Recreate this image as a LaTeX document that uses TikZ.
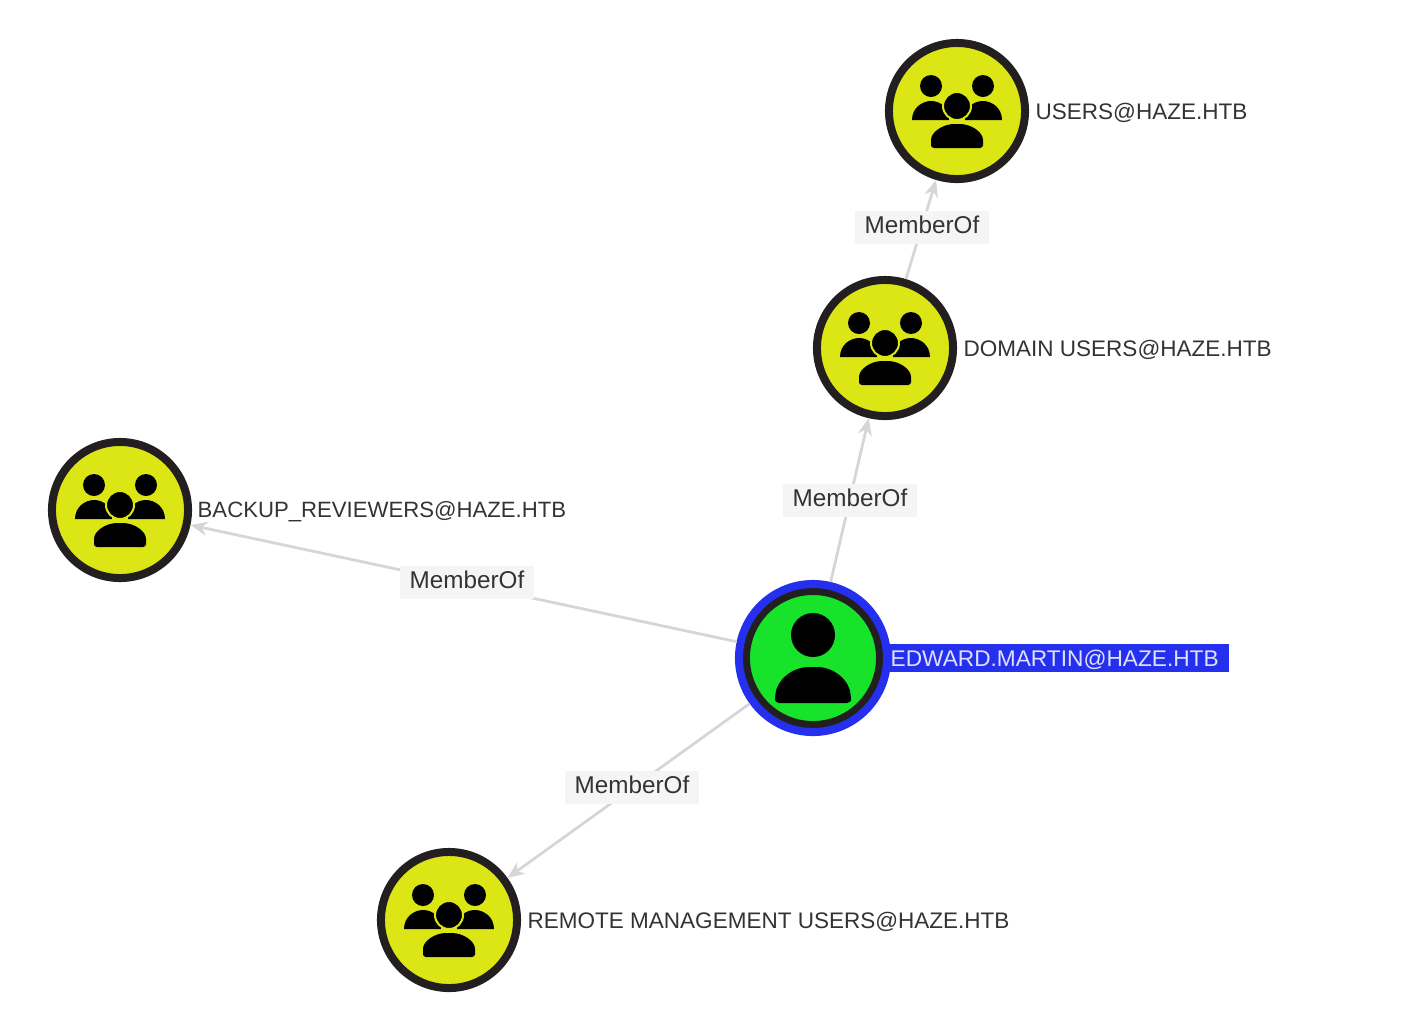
\documentclass[tikz,border=0pt]{standalone}
\usepackage{fontspec}
\setmainfont{Liberation Sans}
\usetikzlibrary{arrows.meta}
\definecolor{groupyellow}{HTML}{DCE614}
\definecolor{usergreen}{HTML}{17E32A}
\definecolor{ringdark}{HTML}{231F20}
\definecolor{selectblue}{HTML}{2430EE}
\definecolor{edgegray}{HTML}{D6D6D6}
\definecolor{textgray}{HTML}{333333}
\tikzset{
  groupnode/.style = {circle, draw = ringdark, fill = groupyellow, line width = .08cm, minimum size = 1.36cm, inner sep = 0pt},
  usernode/.style = {circle, draw = ringdark, fill = usergreen, line width = .08cm, minimum size = 1.34cm, inner sep = 0pt},
  selectring/.style = {circle, draw = selectblue, line width = .08cm, minimum size = 1.48cm, inner sep = 0pt},
  namelabel/.style = {anchor = west, inner sep = 0pt, text = textgray, font = \fontsize{6.4}{7}\selectfont},
  selectlabel/.style = {anchor = west, fill = selectblue, text = white!85!selectblue, font = \fontsize{6.45}{7}\selectfont, inner sep = 0pt, text height = .22cm, text depth = .06cm},
  edgelabel/.style = {fill = gray!8, text = textgray, font = \fontsize{6.9}{7}\selectfont, inner xsep = .1cm, inner ysep = 0pt, text height = .23cm, text depth = .10cm},
  memberedge/.style = {draw = edgegray, line width = .028cm, -{Stealth[length = .17cm, width = .14cm]}},
  groupicon/.pic = {
    \fill (-45,9) .. controls (-45,-3) and (-35,-10) .. (-26,-10) .. controls (-16,-10) and (-8,-3) .. (-8,9) -- cycle;
    \fill (45,9) .. controls (45,-3) and (35,-10) .. (26,-10) .. controls (16,-10) and (8,-3) .. (8,9) -- cycle;
    \fill (-26,-25) circle [radius = 11];
    \fill (26,-25) circle [radius = 11];
    \fill[draw = groupyellow, line width = .02cm] (0,-5) circle [radius = 14];
    \fill[rounded corners = .03cm] (-26,37) -- (-26,32) .. controls (-26,21) and (-14,13) .. (0,13) .. controls (14,13) and (26,21) .. (26,32) -- (26,37) -- cycle;
  },
  usericon/.pic = {
    \fill (0,-23) circle [radius = 22];
    \fill[rounded corners = .04cm] (-38,45) -- (-38,40) .. controls (-36,21) and (-20,9) .. (0,9) .. controls (20,9) and (36,21) .. (38,40) -- (38,45) -- cycle;
  }
}
\begin{document}
\begin{tikzpicture}[x = .01cm, y = -.01cm]
  \useasboundingbox (0,0) rectangle (1417,1008);
  \node at (885,658) [selectlabel, minimum width = 3.43cm] (edwardname) {\makebox[3.43cm][l]{\hspace{.05cm}EDWARD.MARTIN@HAZE.HTB}};

  \node at (957,111) [groupnode] (users) {};
  \node at (885,348) [groupnode] (domainusers) {};
  \node at (120,510) [groupnode] (backup) {};
  \node at (449,920) [groupnode] (remote) {};
  \node at (813,658) [usernode] (edward) {};
  \node at (813,658) [selectring] (edwardring) {};

  \pic at (users) {groupicon};
  \pic at (domainusers) {groupicon};
  \pic at (backup) {groupicon};
  \pic at (remote) {groupicon};
  \pic at (edward) {usericon};

  \node at (1035,113) [namelabel] (usersname) {USERS@HAZE.HTB};
  \node at (963,350) [namelabel] (domainusersname) {DOMAIN USERS@HAZE.HTB};
  \node at (197,512) [namelabel, font = \fontsize{6.3}{7}\selectfont] (backupname) {BACKUP\_REVIEWERS@HAZE.HTB};
  \node at (527,922) [namelabel] (remotename) {REMOTE MANAGEMENT USERS@HAZE.HTB};

  \draw[memberedge] (domainusers) -- (users);
  \draw[memberedge] (edwardring) -- (domainusers);
  \draw[memberedge] (edwardring) -- (backup);
  \draw[memberedge] (edwardring) -- (remote);

  \node at (922,227) [edgelabel] (edgeusers) {MemberOf};
  \node at (850,500) [edgelabel] (edgedomain) {MemberOf};
  \node at (467,582) [edgelabel] (edgebackup) {MemberOf};
  \node at (632,787) [edgelabel] (edgeremote) {MemberOf};
\end{tikzpicture}
\end{document}
